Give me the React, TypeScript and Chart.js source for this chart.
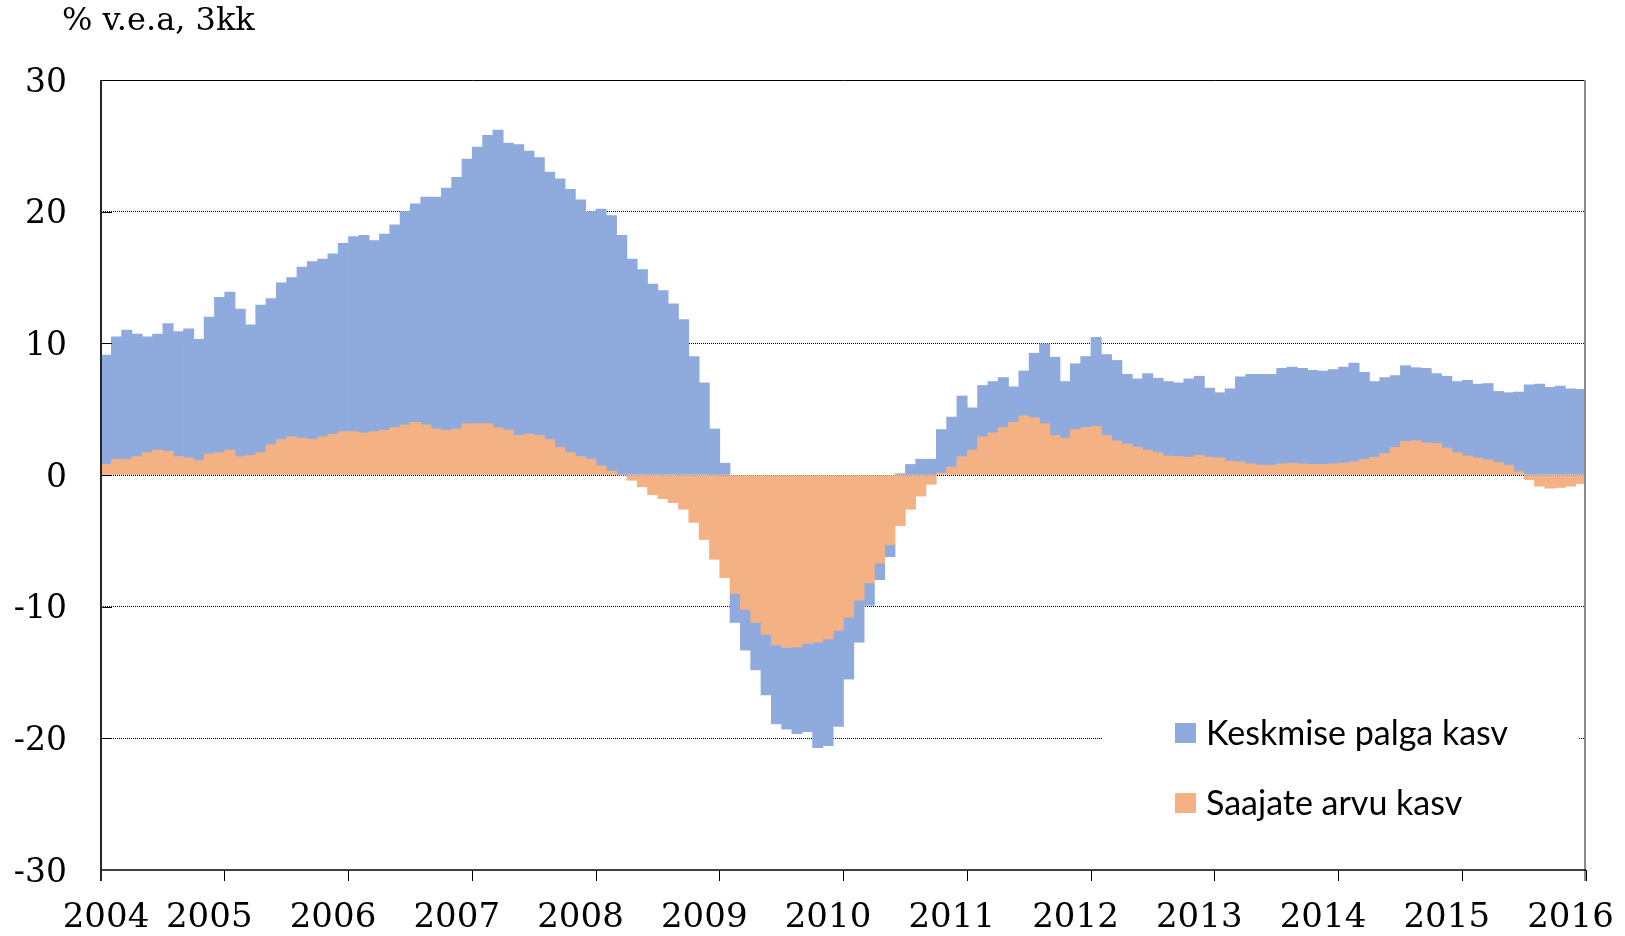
import React, { useEffect, useRef } from "react";
import { Chart, registerables } from "chart.js";

Chart.register(...registerables);

// ---- data ----
const START_YEAR = 2004;
const yearLabels = ["2004", "2005", "2006", "2007", "2008", "2009", "2010", "2011", "2012", "2013", "2014", "2015", "2016"];
const titleText = "% v.e.a, 3kk";
const wageName = "Keskmise palga kasv";
const recipientsName = "Saajate arvu kasv";

// Saajate arvu kasv (monthly, Jan 2004 .. Dec 2015)
const recipients = [
  0.8, 1.2, 1.2, 1.4, 1.7, 1.9, 1.8, 1.4, 1.3, 1.1, 1.6, 1.7,
  1.9, 1.4, 1.5, 1.7, 2.3, 2.7, 2.9, 2.8, 2.7, 2.9, 3.1, 3.3,
  3.3, 3.2, 3.3, 3.4, 3.6, 3.8, 4.0, 3.8, 3.5, 3.4, 3.5, 3.9,
  3.9, 3.9, 3.6, 3.4, 3.0, 3.1, 3.0, 2.7, 2.1, 1.7, 1.4, 1.2,
  0.7, 0.3, 0.0, -0.4, -0.9, -1.5, -1.8, -2.1, -2.6, -3.6, -4.9, -6.4,
  -7.8, -9.0, -10.2, -11.2, -12.1, -12.9, -13.1, -13.05, -12.8, -12.7, -12.45, -11.8,
  -10.8, -9.5, -8.2, -6.7, -5.3, -3.85, -2.6, -1.6, -0.7, 0.15, 0.6, 1.4,
  1.9, 2.9, 3.2, 3.6, 4.0, 4.5, 4.35, 3.9, 3.0, 2.8, 3.45, 3.6,
  3.7, 3.0, 2.6, 2.35, 2.1, 1.9, 1.7, 1.45, 1.4, 1.35, 1.5, 1.35,
  1.3, 1.05, 1.0, 0.85, 0.75, 0.75, 0.85, 0.9, 0.85, 0.8, 0.8, 0.85,
  0.9, 1.0, 1.2, 1.35, 1.65, 2.1, 2.55, 2.6, 2.45, 2.4, 2.05, 1.7,
  1.45, 1.3, 1.15, 0.95, 0.75, 0.25, -0.35, -0.85, -1.0, -0.95, -0.85, -0.65,
];

// Keskmise palga kasv (monthly, Jan 2004 .. Dec 2015)
const wage = [
  8.3, 9.3, 9.8, 9.3, 8.8, 8.8, 9.7, 9.5, 9.8, 9.2, 10.4, 11.8,
  12.0, 11.2, 9.9, 11.2, 11.1, 11.9, 12.1, 13.0, 13.5, 13.5, 13.7, 14.3,
  14.8, 15.0, 14.5, 14.9, 15.4, 16.2, 16.6, 17.3, 17.6, 18.4, 19.1, 20.1,
  21.0, 21.9, 22.6, 21.8, 22.1, 21.5, 21.1, 20.3, 20.4, 20.0, 19.5, 18.8,
  19.5, 19.4, 18.2, 16.4, 15.6, 14.5, 14.0, 13.0, 11.8, 9.0, 7.0, 3.5,
  0.9, -2.2, -3.1, -3.6, -4.6, -6.0, -6.2, -6.6, -6.7, -8.0, -8.1, -7.3,
  -4.7, -3.2, -1.7, -1.25, -0.9, 0.1, 0.8, 1.2, 1.2, 3.3, 3.8, 4.6,
  3.2, 3.9, 3.9, 3.8, 2.7, 3.4, 4.9, 6.05, 5.95, 4.3, 5.0, 5.4,
  6.75, 6.15, 6.1, 5.3, 5.2, 5.8, 5.65, 5.65, 5.6, 5.95, 6.0, 5.25,
  4.95, 5.5, 6.45, 6.8, 6.9, 6.9, 7.25, 7.3, 7.25, 7.15, 7.1, 7.15,
  7.3, 7.5, 6.6, 5.75, 5.75, 5.45, 5.75, 5.55, 5.65, 5.3, 5.45, 5.4,
  5.75, 5.6, 5.8, 5.4, 5.5, 6.05, 6.85, 6.9, 6.65, 6.75, 6.55, 6.5,
];

const BLUE = "#8FAADC";
const ORANGE = "#F4B183";
const SERIF = '"DejaVu Serif", "Liberation Serif", serif';
const SANS = 'Lato, "Open Sans", sans-serif';

const monthX = (i: number) => START_YEAR + (i + 0.5) / 12;

const decorPlugin = {
  id: "decor",
  afterDatasetsDraw(chart: any) {
    const { ctx, chartArea: a, scales } = chart;
    const y = scales.y;
    ctx.save();
    // legend background box
    ctx.fillStyle = "#ffffff";
    ctx.fillRect(a.right - 484, 688, 476, 150);

    // legend entries
    const items = [
      { name: wageName, color: BLUE, cy: 733 },
      { name: recipientsName, color: ORANGE, cy: 803 },
    ];
    ctx.font = `34px ${SANS}`;
    ctx.textAlign = "left";
    ctx.textBaseline = "middle";
    for (const it of items) {
      ctx.fillStyle = it.color;
      ctx.fillRect(1175, it.cy - 10, 21, 20);
      ctx.fillStyle = "#000";
      ctx.fillText(it.name, 1206, it.cy + 1);
    }

    // inside tick marks on y axis
    ctx.strokeStyle = "#000";
    ctx.lineWidth = 1;
    for (const v of [-20, -10, 0, 10, 20]) {
      const py = Math.round(y.getPixelForValue(v)) + 0.5;
      ctx.beginPath();
      ctx.moveTo(a.left, py);
      ctx.lineTo(a.left + 11, py);
      ctx.stroke();
    }

    // frame
    ctx.strokeStyle = "#000";
    ctx.lineWidth = 1;
    ctx.beginPath();
    ctx.moveTo(a.left, a.top + 0.5);
    ctx.lineTo(a.right, a.top + 0.5);
    ctx.stroke();

    ctx.strokeStyle = "#8c8c8c";
    ctx.lineWidth = 2;
    ctx.beginPath();
    ctx.moveTo(a.right - 1, a.top);
    ctx.lineTo(a.right - 1, a.bottom + 11);
    ctx.stroke();

    ctx.strokeStyle = "#000";
    ctx.lineWidth = 1.5;
    ctx.beginPath();
    ctx.moveTo(a.left, a.bottom);
    ctx.lineTo(a.right, a.bottom);
    ctx.stroke();

    ctx.strokeStyle = "#262626";
    ctx.lineWidth = 2;
    ctx.beginPath();
    ctx.moveTo(a.left, a.top);
    ctx.lineTo(a.left, a.bottom + 11);
    ctx.stroke();
    ctx.restore();
  },
  afterDraw(chart: any) {
    const { ctx, scales } = chart;
    const x = scales.x;
    ctx.save();
    ctx.fillStyle = "#000";
    ctx.textBaseline = "middle";
    // title
    ctx.font = `32px ${SERIF}`;
    ctx.textAlign = "left";
    ctx.fillText(titleText, 62, 22);
    // year labels
    ctx.font = `34px ${SERIF}`;
    ctx.textAlign = "center";
    yearLabels.forEach((lab, i) => {
      const px = x.getPixelForValue(START_YEAR + i) + (i === 0 ? 5 : -15.5);
      ctx.fillText(lab, px, 918);
    });
    ctx.restore();
  },
};

export default function App() {
  const ref = useRef<HTMLCanvasElement | null>(null);

  useEffect(() => {
    if (!ref.current) return;
    const chart = new Chart(ref.current, {
      type: "bar",
      data: {
        datasets: [
          {
            label: recipientsName,
            data: recipients.map((v, i) => ({ x: monthX(i), y: v })),
            backgroundColor: ORANGE,
            borderWidth: 0,
            barPercentage: 1,
            categoryPercentage: 1,
          },
          {
            label: wageName,
            data: wage.map((v, i) => ({ x: monthX(i), y: v })),
            backgroundColor: BLUE,
            borderWidth: 0,
            barPercentage: 1,
            categoryPercentage: 1,
          },
        ],
      },
      options: {
        responsive: false,
        animation: false,
        devicePixelRatio: 1,
        events: [],
        layout: { padding: { left: 0, top: 80, right: 39, bottom: 0 } },
        plugins: {
          legend: { display: false },
          tooltip: { enabled: false },
          title: { display: false },
        },
        scales: {
          x: {
            type: "linear",
            stacked: true,
            offset: false,
            min: 2004,
            max: 2016,
            ticks: { stepSize: 1, display: false },
            grid: {
              offset: false,
              drawOnChartArea: false,
              drawTicks: true,
              tickLength: 11,
              tickColor: "#000",
              color: "#000",
              lineWidth: 1,
            },
            border: { display: false },
            afterFit: (s: any) => {
              s.height = 66;
            },
          },
          y: {
            stacked: true,
            min: -30,
            max: 30,
            ticks: {
              stepSize: 10,
              padding: 34,
              labelOffset: 3,
              color: "#000",
              font: { family: SERIF, size: 33 },
            },
            grid: {
              drawTicks: false,
              lineWidth: 1,
              color: (c: any) =>
                c.tick && Math.abs(c.tick.value) === 30 ? "rgba(0,0,0,0)" : "#000",
            },
            border: { display: false, dash: [1, 1] },
            afterFit: (s: any) => {
              s.width = 101;
            },
          },
        },
      },
      plugins: [decorPlugin],
    });
    return () => chart.destroy();
  }, []);

  return (
    <div style={{ position: "absolute", left: 0, top: 0, width: 1625, height: 936, background: "#fff" }}>
      <canvas ref={ref} width={1625} height={936} style={{ display: "block", width: 1625, height: 936 }} />
    </div>
  );
}
